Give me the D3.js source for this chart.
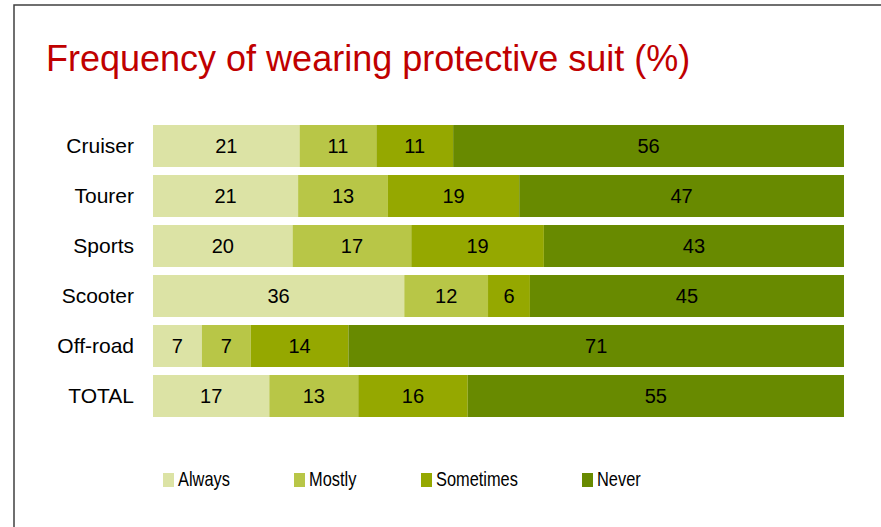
<!DOCTYPE html>
<html>
<head>
<meta charset="utf-8">
<script src="https://cdn.jsdelivr.net/npm/d3@7"></script>
<style>
  body { margin: 0; background: #fff; }
  text { font-family: "Liberation Sans", Arial, sans-serif; }
</style>
</head>
<body>
<svg width="881" height="527"></svg>
<script>
// Categories (top to bottom) and the four answer series, in %
const categories = ['Cruiser', 'Tourer', 'Sports', 'Scooter', 'Off-road', 'TOTAL'];
const keys = ['Always', 'Mostly', 'Sometimes', 'Never'];
const always    = [21, 21, 20, 36, 7, 17];
const mostly    = [11, 13, 17, 12, 7, 13];
const sometimes = [11, 19, 19, 6, 14, 16];
const never     = [56, 47, 43, 45, 71, 55];
const colors = ['#dce3a5', '#b8c647', '#95a800', '#688a00'];

const rows = categories.map((c, i) => ({
  category: c,
  Always: always[i],
  Mostly: mostly[i],
  Sometimes: sometimes[i],
  Never: never[i]
}));

// rows are shown as 100% bars (rounded values don't always add to 100)
const stacked = d3.stack().keys(keys).offset(d3.stackOffsetExpand)(rows);

const svg = d3.select('svg');

// frame
svg.append('path')
  .attr('d', 'M14,527V5H881')
  .attr('fill', 'none')
  .attr('stroke', '#404040')
  .attr('stroke-width', 1.5);

svg.append('text')
  .attr('x', 46)
  .attr('y', 71)
  .attr('fill', '#c00000')
  .style('font-size', '36px')
  .text('Frequency of wearing protective suit (%)');

const x = d3.scaleLinear()
  .domain([0, 1])
  .range([153, 844]);

const y = d3.scaleBand()
  .domain(categories)
  .range([121, 421])
  .paddingInner(0.16)
  .paddingOuter(0.08);

const color = d3.scaleOrdinal()
  .domain(keys)
  .range(colors);

const series = svg.selectAll('.series')
  .data(stacked)
  .enter().append('g')
    .attr('class', 'series')
    .attr('fill', d => color(d.key));

series.selectAll('rect')
  .data(d => d)
  .enter().append('rect')
    .attr('x', d => x(d[0]))
    .attr('y', d => y(d.data.category))
    .attr('width', d => x(d[1]) - x(d[0]))
    .attr('height', y.bandwidth());

series.selectAll('.value')
  .data(d => d.map(v => Object.assign({key: d.key}, v)))
  .enter().append('text')
    .attr('class', 'value')
    .attr('x', d => (x(d[0]) + x(d[1])) / 2)
    .attr('y', d => y(d.data.category) + y.bandwidth() / 2)
    .attr('dy', '0.35em')
    .attr('text-anchor', 'middle')
    .attr('fill', '#000')
    .style('font-size', '20px')
    .text(d => d.data[d.key]);

svg.append('g')
    .attr('transform', 'translate(134,0)')
    .call(d3.axisLeft(y).tickSize(0).tickPadding(0))
    .call(g => g.select('.domain').remove())
    .call(g => g.selectAll('text')
      .attr('fill', '#000')
      .style('font-size', '21px')
      .style('font-family', '"Liberation Sans", Arial, sans-serif'));

// legend (text is horizontally condensed in the original)
const legendPos = {Always: 163, Mostly: 294, Sometimes: 421, Never: 582};

const legend = svg.selectAll('.legend')
  .data(keys)
  .enter().append('g')
    .attr('class', 'legend')
    .attr('transform', d => `translate(${legendPos[d]},473)`);

legend.append('rect')
  .attr('width', 11)
  .attr('height', 14)
  .attr('fill', d => color(d));

legend.append('text')
  .attr('transform', 'translate(15,13) scale(0.82,1)')
  .attr('fill', '#000')
  .style('font-size', '20px')
  .text(d => d);
</script>
</body>
</html>
